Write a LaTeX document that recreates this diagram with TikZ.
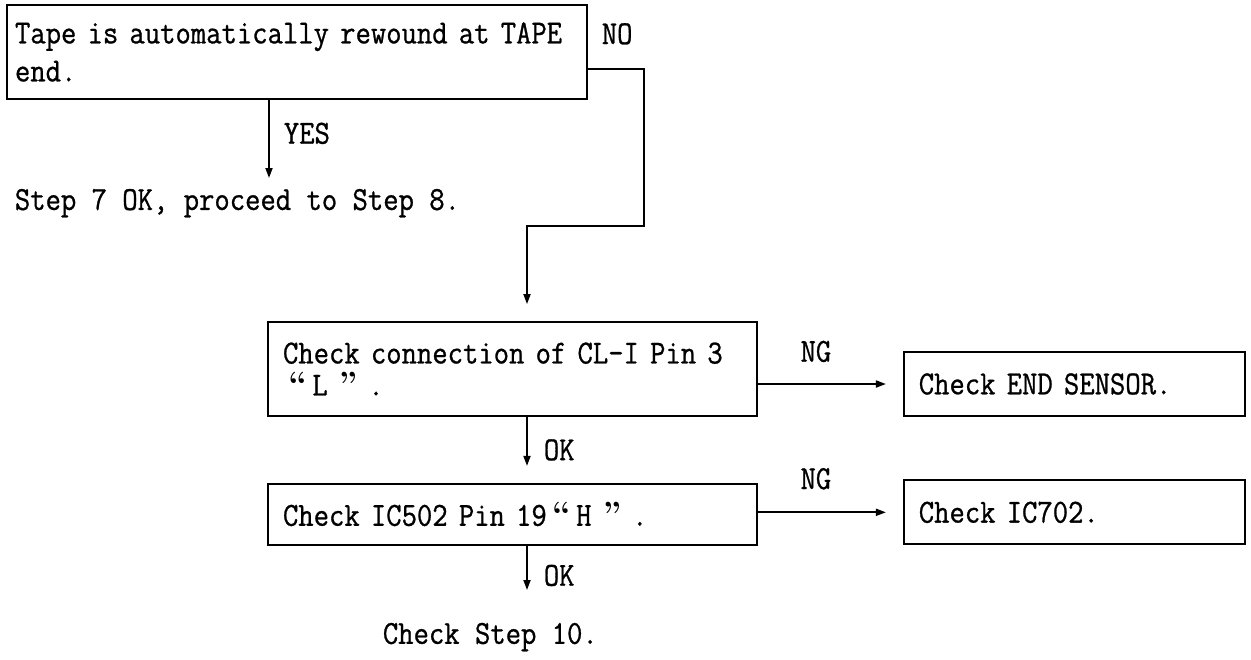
\documentclass[tikz,border=0pt]{standalone}
\usepackage{fontspec}
\setmonofont{Latin Modern Mono}[FakeBold=0.8, FakeStretch=0.887]
\usetikzlibrary{arrows.meta,positioning}

% wide quotation marks as printed in the chart
\newcommand\qo{\makebox[14.7pt][c]{\rmfamily\bfseries “}}
\newcommand\qc{\makebox[14.7pt][l]{\rmfamily\bfseries ”}}

\begin{document}
\begin{tikzpicture}[
  x=0.5pt, y=-0.5pt,
  font=\ttfamily\fontsize{16.8}{16}\selectfont,
  line width=0.9pt,
  box/.style ={draw, align=left, inner xsep=7.5pt, inner ysep=0pt},
  wbox/.style={box, text width=229.5pt, minimum height=47pt},
  nbox/.style={box, text width=155.5pt, minimum height=32pt},
  txt/.style ={inner sep=0pt, align=left},
  lbl/.style ={inner sep=0pt},
  arr/.style ={-{Triangle[length=5pt,width=3.5pt]}, shorten >=8.5pt}
]
\useasboundingbox (0,0) rectangle (1251,659);

\node[box, inner xsep=4pt, text width=282pt, minimum height=47pt] (tape) at (297,52)
      {Tape is automatically rewound at TAPE\\[3pt]end.};
\node[txt, anchor=north west] (step8) at (14,188) {Step 7 OK, proceed to Step 8.};
\node[lbl, anchor=base west] (no) at ([xshift=6.5pt,yshift=-20pt]tape.north east) {NO};

\node[wbox] (clpin) at (512.5,369) {Check connection of CL-I Pin 3\\\qo L \qc.};
\node[nbox, right=72.5pt of clpin, yshift=-7.5pt] (sensor) {Check END SENSOR.};
\node[wbox, minimum height=30.5pt, below=33pt of clpin] (icpin) {Check IC502 Pin 19\qo H \qc.};
\node[nbox, right=72.5pt of icpin, yshift=1pt] (ic702) {Check IC702.};
\node[txt, anchor=north west] (step10) at (382,622) {Check Step 10.};

\coordinate (noturn) at (644,226);

\draw[arr, shorten >=5pt] ([xshift=-14pt]tape.south)
      -- node[lbl, right=7pt, pos=0.38] {YES} ([xshift=-14pt]tape.south |- step8.north);
\draw[arr] ([yshift=-8.5pt]tape.east) -| (noturn) -| ([xshift=7.25pt]clpin.north);
\draw[arr] (sensor.west -| clpin.east)
      -- node[lbl, above=10.5pt, pos=0.4] {NG} (sensor.west);
\draw[arr] ([xshift=7.25pt]clpin.south)
      -- node[lbl, right=8pt] {OK} ([xshift=7.25pt]clpin.south |- icpin.north);
\draw[arr] (ic702.west -| icpin.east)
      -- node[lbl, above=11pt, pos=0.4] {NG} (ic702.west);
\draw[arr, shorten >=16pt] ([xshift=7.25pt]icpin.south)
      -- node[lbl, right=8pt, pos=0.39] {OK} ([xshift=7.25pt]icpin.south |- step10.north);
\end{tikzpicture}
\end{document}
